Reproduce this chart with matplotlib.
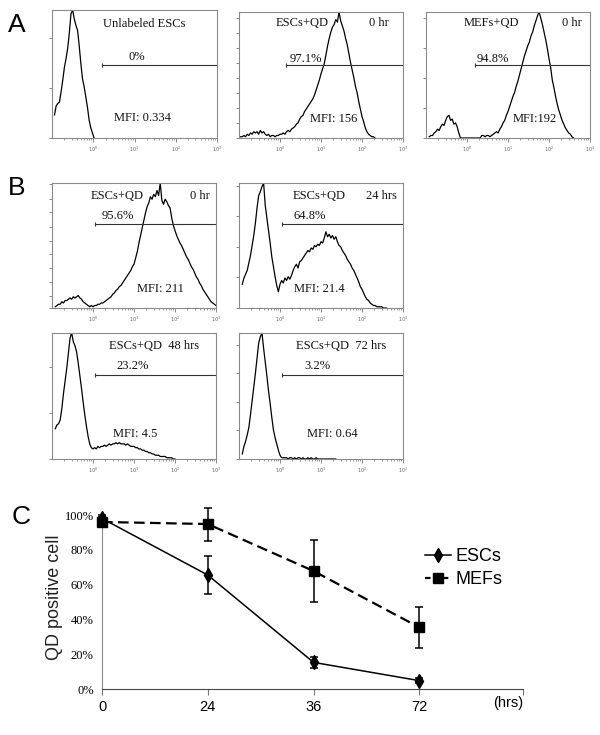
import numpy as np
import matplotlib
matplotlib.use("Agg")
import matplotlib.pyplot as plt
from matplotlib.lines import Line2D

# ---------------- data ----------------
# Flow-cytometry histograms: counts (% of max) on a log10 fluorescence grid
# starting at the given log10 value, one value every 0.04 decade.
a1_start = -0.94
a1_counts = [18, 25, 27, 28, 36, 45, 55, 62, 70, 82, 97, 100, 93, 88, 84, 72, 58,
             46, 40, 32, 24, 14, 8, 4, 0]

a2_start = -0.96
a2_counts = [1, 1, 2, 1, 3, 2, 4, 3, 5, 4, 5, 3, 6, 4, 5, 3, 2, 3, 1, 2, 2, 1, 2, 2,
             3, 3, 4, 3, 5, 6, 5, 7, 8, 9, 11, 12, 15, 17, 18, 21, 23, 25, 27, 29, 31,
             34, 38, 42, 46, 51, 55, 59, 66, 73, 79, 84, 88, 90, 94, 92, 100, 93, 89,
             85, 79, 74, 67, 60, 54, 48, 41, 36, 29, 23, 17, 13, 8, 5, 3, 2, 1, 1, 0]

a3_start = -0.92
a3_counts = [1, 2, 2, 4, 5, 7, 6, 9, 11, 10, 14, 17, 18, 14, 15, 11, 12, 9, 4, 0,
             0, 0, 0, 0, 0, 0, 0, 0, 0, 0, 0, 0, 2, 2, 1, 2, 2, 1, 2, 3, 4, 5, 4, 7,
             9, 12, 14, 18, 21, 25, 29, 33, 36, 41, 45, 50, 55, 60, 65, 69, 73, 76,
             81, 84, 89, 93, 97, 100, 95, 90, 84, 78, 71, 63, 56, 46, 40, 33, 27, 22,
             18, 14, 11, 8, 6, 4, 3, 1, 0]

b1_start = -0.92
b1_counts = [1, 2, 3, 3, 5, 4, 6, 6, 7, 8, 7, 9, 8, 9, 10, 8, 7, 5, 4, 3, 2, 1, 2,
             1, 2, 2, 3, 3, 4, 4, 5, 6, 7, 8, 9, 11, 12, 14, 15, 17, 18, 20, 22, 24,
             26, 28, 30, 33, 35, 40, 45, 52, 58, 64, 70, 76, 81, 84, 89, 87, 91, 89,
             94, 90, 100, 86, 83, 87, 85, 82, 80, 72, 66, 62, 58, 55, 52, 50, 47, 44,
             41, 39, 36, 33, 31, 28, 25, 23, 20, 18, 15, 13, 11, 9, 7, 5, 4, 3, 2]

b2_start = -0.92
b2_counts = [19, 24, 27, 30, 36, 42, 50, 58, 68, 80, 90, 93, 97, 100, 82, 72, 62,
             52, 41, 33, 25, 18, 13, 19, 22, 20, 24, 22, 25, 23, 26, 30, 33, 35, 32,
             37, 38, 40, 42, 44, 46, 45, 48, 47, 50, 49, 51, 50, 53, 52, 56, 61, 57,
             59, 56, 58, 55, 57, 53, 50, 49, 46, 44, 42, 39, 37, 35, 32, 30, 27, 24,
             21, 17, 15, 12, 9, 7, 6, 4, 3, 2, 2, 1, 1, 1, 1, 0, 0, 0]

b3_start = -0.92
b3_counts = [24, 27, 28, 31, 40, 52, 62, 72, 84, 96, 100, 93, 90, 85, 76, 66, 56,
             45, 35, 26, 18, 12, 9, 8, 9, 8, 10, 9, 10, 10, 11, 10, 11, 12, 11, 12,
             12, 13, 12, 13, 12, 12, 12, 11, 12, 11, 10, 10, 10, 9, 9, 8, 8, 7, 7, 6,
             6, 5, 5, 4, 4, 3, 3, 3, 2, 2, 2, 2, 1, 1, 1, 1, 0, 0]

b4_start = -0.92
b4_counts = [4, 10, 14, 19, 25, 35, 46, 57, 68, 80, 92, 97, 100, 88, 77, 66, 54,
             44, 33, 23, 17, 12, 7, 3, 1, 1, 1, 1, 0, 1, 1, 0, 1, 0, 1, 1, 0, 1, 0,
             0, 1, 0, 1, 0, 0, 1, 0, 0, 0, 0, 0, 0, 0, 0, 0, 0, 0, 0]

# gate start (log10) and level (% of axis height)
gates_start = [0.20, 0.15, 0.19, 0.06, 0.04, 0.06, 0.04]
gates_level = [57, 58, 58, 67, 67, 67, 67]

# Panel C: percentage of QD-positive cells
time_labels = ["0", "24", "36", "72"]
esc_mean = [98, 65.5, 15.3, 4.8]
esc_err = [2, 10.8, 3.0, 1.5]
mef_mean = [96, 94.8, 67.8, 35.4]
mef_err = [3, 9.5, 17.7, 12.0]
y_ticks_c = [0, 20, 40, 60, 80, 100]

# ---------------- figure ----------------
W, H = 600, 735
fig = plt.figure(figsize=(W / 100, H / 100), dpi=100)
SERIF = "Liberation Serif"
SANS = "Liberation Sans"


def px_axes(x0, y0, x1, y1):
    return fig.add_axes([x0 / W, 1 - y1 / H, (x1 - x0) / W, (y1 - y0) / H])


STEP = 0.04
minor_pos = [d + np.log10(k) for d in range(-1, 3) for k in range(2, 10)]


def hist_panel(box, start, counts, gate_start, gate_level, yticks, texts):
    ax = px_axes(*box)
    x = start + STEP * np.arange(len(counts))
    ax.plot(x, counts, color="black", lw=0.9)
    ax.set_xlim(-1, 3)
    ax.set_ylim(0, 100)
    ax.plot([gate_start, 3], [gate_level, gate_level], color="#333333", lw=0.8)
    ax.plot([gate_start], [gate_level], marker="|", ms=3, color="#333333", mew=0.8)
    for s in ax.spines.values():
        s.set_color("#8a8a8a")
        s.set_linewidth(0.8)
    ax.set_xticks([0, 1, 2, 3])
    ax.set_xticklabels([r"10$^{0}$", r"10$^{1}$", r"10$^{2}$", r"10$^{3}$"],
                       fontsize=3.5, color="#666666")
    ax.set_xticks(minor_pos, minor=True)
    ax.tick_params(axis="x", which="major", length=3, width=0.6, color="#777777", pad=1.5)
    ax.tick_params(axis="x", which="minor", length=1.6, width=0.5, color="#777777")
    ax.set_yticks(yticks)
    ax.set_yticklabels([])
    ax.tick_params(axis="y", length=2.5, width=0.6, color="#777777")
    for (tx, ty, s) in texts:
        ax.text(tx, ty, s, transform=ax.transAxes, ha="center", va="center",
                fontsize=9, family=SERIF, color="#111111")
    return ax


# Panel A
hist_panel((52, 10, 217, 138), a1_start, a1_counts, gates_start[0], gates_level[0],
           [0, 39, 78],
           [(0.56, 0.89, "Unlabeled ESCs"), (0.515, 0.63, "0%"), (0.55, 0.156, "MFI: 0.334")])
hist_panel((239, 12, 403, 138), a2_start, a2_counts, gates_start[1], gates_level[1],
           [0, 11.9, 23.8, 35.7, 47.6, 59.5, 71.4, 83.3, 95.2],
           [(0.385, 0.91, "ESCs+QD"), (0.85, 0.91, "0 hr"), (0.41, 0.63, "97.1%"),
            (0.575, 0.15, "MFI: 156")])
hist_panel((426, 12, 590, 138), a3_start, a3_counts, gates_start[2], gates_level[2],
           [0, 23.8, 47.6, 71.4, 95.2],
           [(0.40, 0.91, "MEFs+QD"), (0.89, 0.91, "0 hr"), (0.41, 0.63, "94.8%"),
            (0.665, 0.15, "MFI:192")])

# Panel B
hist_panel((52, 183, 216, 308), b1_start, b1_counts, gates_start[3], gates_level[3],
           [0, 10, 21, 32, 43.5, 54, 65, 77, 87.5, 99.5],
           [(0.40, 0.90, "ESCs+QD"), (0.90, 0.90, "0 hr"), (0.40, 0.74, "95.6%"),
            (0.66, 0.15, "MFI: 211")])
hist_panel((239, 183, 403, 308), b2_start, b2_counts, gates_start[4], gates_level[4],
           [0, 24.5, 49, 73.5, 98],
           [(0.49, 0.90, "ESCs+QD"), (0.87, 0.90, "24 hrs"), (0.43, 0.74, "64.8%"),
            (0.49, 0.15, "MFI: 21.4")])
hist_panel((52, 333, 216, 459), b3_start, b3_counts, gates_start[5], gates_level[5],
           [0, 36.5, 73],
           [(0.62, 0.90, "ESCs+QD  48 hrs"), (0.49, 0.74, "23.2%"), (0.51, 0.20, "MFI: 4.5")])
hist_panel((239, 333, 403, 459), b4_start, b4_counts, gates_start[6], gates_level[6],
           [0, 22.7, 45.3, 68, 90.7],
           [(0.62, 0.90, "ESCs+QD  72 hrs"), (0.48, 0.74, "3.2%"), (0.57, 0.20, "MFI: 0.64")])

# Panel letters
for (lx, ly, s) in [(17, 25, "A"), (17, 188, "B"), (21, 517, "C")]:
    fig.text(lx / W, 1 - ly / H, s, ha="center", va="center", fontsize=19, family=SANS)

# Panel C
axc = px_axes(102, 515, 523, 689)
xpos = np.arange(len(time_labels))
axc.errorbar(xpos, esc_mean, yerr=esc_err, color="black", lw=1.1, marker="d", ms=7.5,
             capsize=2.7, elinewidth=1.1, capthick=1.1, clip_on=False, zorder=3)
axc.errorbar(xpos, mef_mean, yerr=mef_err, color="black", lw=1.6, marker="s", ms=6.5,
             capsize=2.7, elinewidth=1.1, capthick=1.1, dashes=(4.8, 2.4),
             clip_on=False, zorder=3)
axc.set_xlim(0, 3.98)
axc.set_ylim(0, 100)
axc.spines["top"].set_visible(False)
axc.spines["right"].set_visible(False)
axc.spines["left"].set_color("#888888")
axc.spines["bottom"].set_color("#444444")
axc.set_xticks(list(xpos) + [3.98])
axc.set_xticklabels(time_labels + [""], fontsize=10.5, family=SANS)
axc.tick_params(axis="x", length=4, width=0.8, color="#777777", pad=4)
axc.set_yticks(y_ticks_c)
axc.set_yticklabels([f"{v}%" for v in y_ticks_c], fontsize=9, family=SERIF)
axc.tick_params(axis="y", length=0, pad=6)
fig.text(508 / W, 1 - 703 / H, "(hrs)", ha="center", va="center", fontsize=10.5, family=SANS)
fig.text(55 / W, 1 - 597 / H, "QD positive cell", ha="center", va="center", rotation=90,
         fontsize=13, family=SANS, color="#222222")

handles = [Line2D([], [], color="black", lw=1.1, marker="d", ms=7.5),
           Line2D([], [], color="black", lw=1.6, marker="s", ms=6.5, dashes=(2.5, 1.5))]
fig.legend(handles, ["ESCs", "MEFs"], loc="upper left",
           bbox_to_anchor=(409 / W, 1 - 532 / H), frameon=False,
           handlelength=1.45, handletextpad=0.25, labelspacing=0.33,
           prop={"family": SANS, "size": 13})

fig.savefig("out.png", dpi=100)
